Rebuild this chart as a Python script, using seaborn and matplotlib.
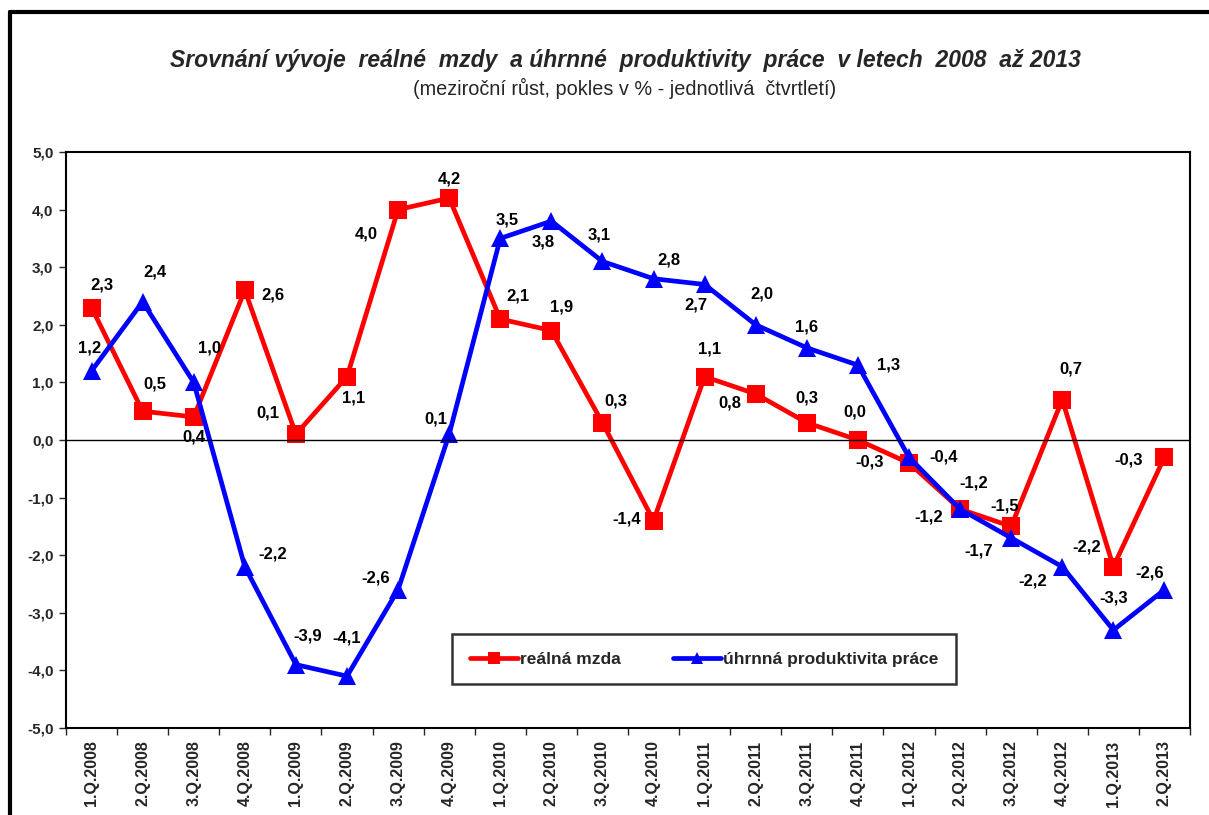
import pandas as pd
import matplotlib.pyplot as plt
from matplotlib.lines import Line2D
import seaborn as sns

# 1. Data
quarters = ["1.Q.2008", "2.Q.2008", "3.Q.2008", "4.Q.2008",
            "1.Q.2009", "2.Q.2009", "3.Q.2009", "4.Q.2009",
            "1.Q.2010", "2.Q.2010", "3.Q.2010", "4.Q.2010",
            "1.Q.2011", "2.Q.2011", "3.Q.2011", "4.Q.2011",
            "1.Q.2012", "2.Q.2012", "3.Q.2012", "4.Q.2012",
            "1.Q.2013", "2.Q.2013"]
realna_mzda = [2.3, 0.5, 0.4, 2.6, 0.1, 1.1, 4.0, 4.2, 2.1, 1.9, 0.3, -1.4,
               1.1, 0.8, 0.3, 0.0, -0.4, -1.2, -1.5, 0.7, -2.2, -0.3]
produktivita = [1.2, 2.4, 1.0, -2.2, -3.9, -4.1, -2.6, 0.1, 3.5, 3.8, 3.1, 2.8,
                2.7, 2.0, 1.6, 1.3, -0.3, -1.2, -1.7, -2.2, -3.3, -2.6]
series_names = ["reálná mzda", "úhrnná produktivita práce"]

# label offsets in screen pixels (right, down) - placement only
off_red = [(10, -23), (12, -27), (0, 20), (28, 5), (-28, -21), (7, 21),
           (-32, 24), (0, -19), (18, -23), (10, -24), (13, -22), (-27, -2),
           (5, -28), (-26, 9), (0, -25), (-3, -28), (35, -6), (14, -26),
           (-6, -20), (9, -31), (-27, -20), (-36, 3)]
off_blue = [(-2, -23), (12, -30), (16, -34), (28, -13), (12, -29), (0, -38),
            (-22, -12), (-13, -15), (7, -18), (-8, 21), (-3, -26), (15, -19),
            (-9, 21), (6, -31), (0, -21), (31, 0), (-39, 5), (-31, 8),
            (-32, 13), (-30, 14), (0, -32), (-15, -17)]

df = pd.DataFrame({
    "pos": list(range(len(quarters))) * 2,
    "value": realna_mzda + produktivita,
    "series": [series_names[0]] * len(quarters) + [series_names[1]] * len(quarters),
})

# 2. Style
sns.set_style("white")
plt.rcParams["font.family"] = ["Liberation Sans", "DejaVu Sans"]

fig = plt.figure(figsize=(12.09, 8.15), dpi=100)
ax = fig.add_axes([66 / 1209, 1 - 728 / 815, (1190 - 66) / 1209, (728 - 152) / 815])

sns.lineplot(data=df, x="pos", y="value", hue="series", style="series",
             palette=["#ff0000", "#0000ff"], markers=["s", "^"], dashes=False,
             linewidth=3.4, markersize=13, markeredgewidth=0, ax=ax)

# 3. Data labels
for vals, offs in [(realna_mzda, off_red), (produktivita, off_blue)]:
    for i, (v, (dx, dy)) in enumerate(zip(vals, offs)):
        ax.annotate(f"{v:.1f}".replace(".", ","), (i, v), xytext=(dx, -dy),
                    textcoords="offset pixels", ha="center", va="center",
                    fontsize=12, fontweight="bold", color="black")

# 4. Axes
ax.set_xlim(-0.5, len(quarters) - 0.5)
ax.set_ylim(-5, 5)
ax.set_yticks(range(-5, 6))
ax.set_yticklabels([f"{t:.1f}".replace(".", ",") for t in range(-5, 6)],
                   fontsize=11, fontweight="bold")
ax.set_xticks(range(len(quarters)))
ax.set_xticklabels(quarters, rotation=90, fontsize=11.5, fontweight="bold")
ax.set_xticks([i - 0.5 for i in range(len(quarters) + 1)], minor=True)
ax.tick_params(axis="x", which="major", length=0, pad=9)
ax.tick_params(axis="x", which="minor", length=5, width=1, direction="out", bottom=True)
ax.tick_params(axis="y", length=5, width=1, direction="out", left=True, pad=4)
ax.axhline(0, color="black", linewidth=1)
ax.set_xlabel("")
ax.set_ylabel("")
for s in ax.spines.values():
    s.set_color("black")
    s.set_linewidth(1.5)

# 5. Legend
leg = ax.legend(loc="center", bbox_to_anchor=(704 / 1209, 1 - 659 / 815),
                bbox_transform=fig.transFigure, ncol=2, frameon=True,
                fancybox=False, edgecolor="black",
                prop={"weight": "bold", "size": 12.5}, handlelength=2.8,
                columnspacing=3.0, borderpad=1.0, borderaxespad=0,
                handletextpad=0.1)
leg.get_frame().set_linewidth(1.8)
for h in leg.legend_handles:
    h.set_markersize(8)

# 6. Titles and outer frame
fig.text(0.517, 1 - 60 / 815,
         "Srovnání vývoje  reálné  mzdy  a úhrnné  produktivity  práce  v letech  2008  až 2013",
         ha="center", va="center", fontsize=16.5, fontweight="bold", style="italic")
fig.text(0.517, 1 - 88 / 815, "(meziroční růst, pokles v % - jednotlivá  čtvrtletí)",
         ha="center", va="center", fontsize=14.3)
fig.add_artist(Line2D([10 / 1209, 10 / 1209], [0, 1 - 12 / 815],
                      transform=fig.transFigure, color="black", linewidth=3))
fig.add_artist(Line2D([10 / 1209, 1], [1 - 12 / 815, 1 - 12 / 815],
                      transform=fig.transFigure, color="black", linewidth=3))

fig.savefig("out.png", dpi=100)
plt.close()
